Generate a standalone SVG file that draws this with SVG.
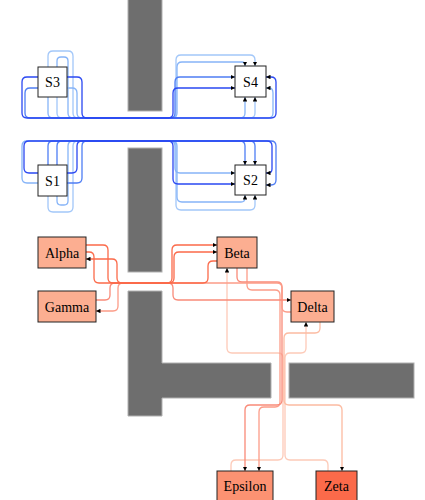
<svg xmlns="http://www.w3.org/2000/svg" width="425" height="500" viewBox="0 0 425 500">
<style>
.obs{fill:#6e6e6e;stroke:#b0b0b0;stroke-width:1}
.node rect{stroke:#222;stroke-width:1}
.node text{font-family:"Liberation Serif","Times New Roman",serif;font-size:14px;fill:#000;text-anchor:middle}
.e{fill:none;stroke-width:1.3;stroke-linejoin:round}
.arr{marker-end:url(#ah)}
.bd{stroke:#2a48f2}.bm{stroke:#4f7ef4}.bl{stroke:#86b4f8}.bx{stroke:#a2c7f9}
.r1{stroke:#fb6a4a}.r2{stroke:#f98a78}.r3{stroke:#fc9c88}.r4{stroke:#fcbba1}.r5{stroke:#fdcab8}
.wh{fill:#ffffff}.sa{fill:#fcae91}.sb{fill:#fc9272}.sc{fill:#fb6a4a}
</style>
<defs>
<marker id="ah" viewBox="0 0 6 6" refX="6" refY="3" markerWidth="4.5" markerHeight="4.5" orient="auto" markerUnits="userSpaceOnUse"><path d="M0,0 L6,3 L0,6 Z" fill="#000"/></marker>
</defs>
<rect width="425" height="500" fill="#ffffff"/>
<g id="obstacles">
<rect class="obs" x="128" y="-2" width="34" height="113"/>
<rect class="obs" x="128" y="148" width="34" height="124"/>
<path class="obs" d="M128,291 H162 V363 H271 V398 H162 V416 H128 Z"/>
<rect class="obs" x="289" y="363" width="125" height="35"/>
</g>
<g id="connectors">
<!-- S3 -> S4 -->
<path class="e arr bx" d="M57,97 V113 Q57,118 62,118 H250 Q255,118 255,113 V97"/>
<path class="e arr bx" d="M48,67 V56 Q48,51 53,51 H68 Q73,51 73,56 V113 Q73,118 78,118 H171 Q176,118 176,113 V60 Q176,55 181,55 H250 Q255,55 255,60 V66"/>
<path class="e arr bl" d="M57,67 V61 Q57,57 61,57 H64 Q68,57 68,61 V113 Q68,118 73,118 H172 Q177,118 177,113 V67 Q177,62 182,62 H242 Q245,62 245,65 V66"/>
<path class="e arr bl" d="M48,97 V113 Q48,118 53,118 H240 Q245,118 245,113 V97"/>
<path class="e arr bl" d="M67,88 H72 Q77,88 77,93 V113 Q77,118 82,118 H268 Q273,118 273,113 V93 Q273,88 269,88 H266"/>
<path class="e arr bm" d="M38,88 H30 Q25,88 25,93 V113 Q25,118 30,118 H170 Q175,118 175,113 V82 Q175,77 180,77 H235"/>
<path class="e arr bd" d="M38,77 H27 Q22,77 22,82 V113 Q22,118 27,118 H168 Q173,118 173,113 V93 Q173,88 178,88 H235"/>
<path class="e arr bd" d="M67,77 H77 Q82,77 82,82 V113 Q82,118 87,118 H271 Q276,118 276,113 V82 Q276,77 271,77 H266"/>
<!-- S1 -> S2 -->
<path class="e arr bx" d="M48,196 V207 Q48,212 53,212 H68 Q73,212 73,207 V146 Q73,141 78,141 H171 Q176,141 176,146 V205 Q176,210 181,210 H250 Q255,210 255,205 V195"/>
<path class="e arr bl" d="M57,196 V201 Q57,205 61,205 H64 Q68,205 68,201 V146 Q68,141 73,141 H172 Q177,141 177,146 V197 Q177,202 182,202 H241 Q245,202 245,198 V195"/>
<path class="e arr bl" d="M38,183 H27 Q22,183 22,178 V146 Q22,141 27,141 H170 Q175,141 175,146 V168 Q175,173 180,173 H235"/>
<path class="e arr bm" d="M48,165 V146 Q48,141 53,141 H240 Q245,141 245,146 V165"/>
<path class="e arr bm" d="M57,165 V146 Q57,141 62,141 H250 Q255,141 255,146 V165"/>
<path class="e arr bm" d="M67,183 H77 Q82,183 82,178 V146 Q82,141 87,141 H271 Q276,141 276,146 V180 Q276,185 271,185 H266"/>
<path class="e arr bd" d="M38,173 H29 Q24,173 24,168 V146 Q24,141 29,141 H168 Q173,141 173,146 V179 Q173,184 178,184 H235"/>
<path class="e arr bd" d="M67,173 H72 Q77,173 77,168 V146 Q77,141 82,141 H267 Q272,141 272,146 V169 Q272,173 268,173 H266"/>
<!-- red group -->
<path class="e arr r5" d="M231,471 V465 Q231,460 236,460 H278 Q283,460 283,455 V358 Q283,353 278,353 H232 Q227,353 227,348 V268"/>
<path class="e arr r5" d="M328,471 V465 Q328,460 323,460 H290 Q285,460 285,455 V358 Q285,353 290,353 H301 Q306,353 306,348 V322"/>
<path class="e arr r4" d="M320,322 V328 Q320,333 315,333 H289 Q284,333 284,338 V400 Q284,405 289,405 H337 Q342,405 342,410 V471"/>
<path class="e arr r3" d="M247,268 V285 Q247,290 252,290 H275 Q280,290 280,295 V402 Q280,407 275,407 H264 Q259,407 259,412 V471"/>
<path class="e arr r2" d="M237,268 V277 Q237,282 242,282 H277 Q282,282 282,287 V400 Q282,405 277,405 H250 Q245,405 245,410 V471"/>
<path class="e arr r3" d="M291,312 H287 Q282,312 282,307 V288 Q282,283 277,283 H123 Q118,283 118,288 V306 Q118,311 113,311 H96"/>
<path class="e arr r2" d="M96,300 H105 Q110,300 110,295 V288 Q110,283 115,283 H168 Q173,283 173,288 V295 Q173,300 178,300 H291"/>
<path class="e arr r1" d="M217,261 H213 Q208,261 208,266 V278 Q208,283 203,283 H122 Q117,283 117,278 V264 Q117,259 112,259 H86"/>
<path class="e arr r1" d="M86,252 H89 Q94,252 94,257 V278 Q94,283 99,283 H169 Q174,283 174,278 V257 Q174,252 179,252 H217"/>
<path class="e arr r1" d="M86,245 H103 Q108,245 108,250 V278 Q108,283 113,283 H167 Q172,283 172,278 V250 Q172,245 177,245 H217"/>
</g>
<g id="S3" class="node"><rect class="wh" x="38" y="67" width="29" height="30"/><text x="52.5" y="87">S3</text></g>
<g id="S4" class="node"><rect class="wh" x="235" y="66" width="31" height="31"/><text x="250.5" y="86.5">S4</text></g>
<g id="S1" class="node"><rect class="wh" x="38" y="165" width="29" height="31"/><text x="52.5" y="185.5">S1</text></g>
<g id="S2" class="node"><rect class="wh" x="235" y="165" width="31" height="30"/><text x="250.5" y="185">S2</text></g>
<g id="Alpha" class="node"><rect class="sa" x="38" y="237" width="48" height="31"/><text x="62" y="257.5">Alpha</text></g>
<g id="Gamma" class="node"><rect class="sa" x="38" y="291" width="58" height="31"/><text x="67" y="311.5">Gamma</text></g>
<g id="Beta" class="node"><rect class="sa" x="217" y="237" width="40" height="31"/><text x="237" y="257.5">Beta</text></g>
<g id="Delta" class="node"><rect class="sa" x="291" y="291" width="43" height="31"/><text x="312.5" y="311.5">Delta</text></g>
<g id="Epsilon" class="node"><rect class="sb" x="217" y="471" width="56" height="30"/><text x="245" y="491">Epsilon</text></g>
<g id="Zeta" class="node"><rect class="sc" x="316" y="471" width="41" height="30"/><text x="336.5" y="491">Zeta</text></g>
</svg>
